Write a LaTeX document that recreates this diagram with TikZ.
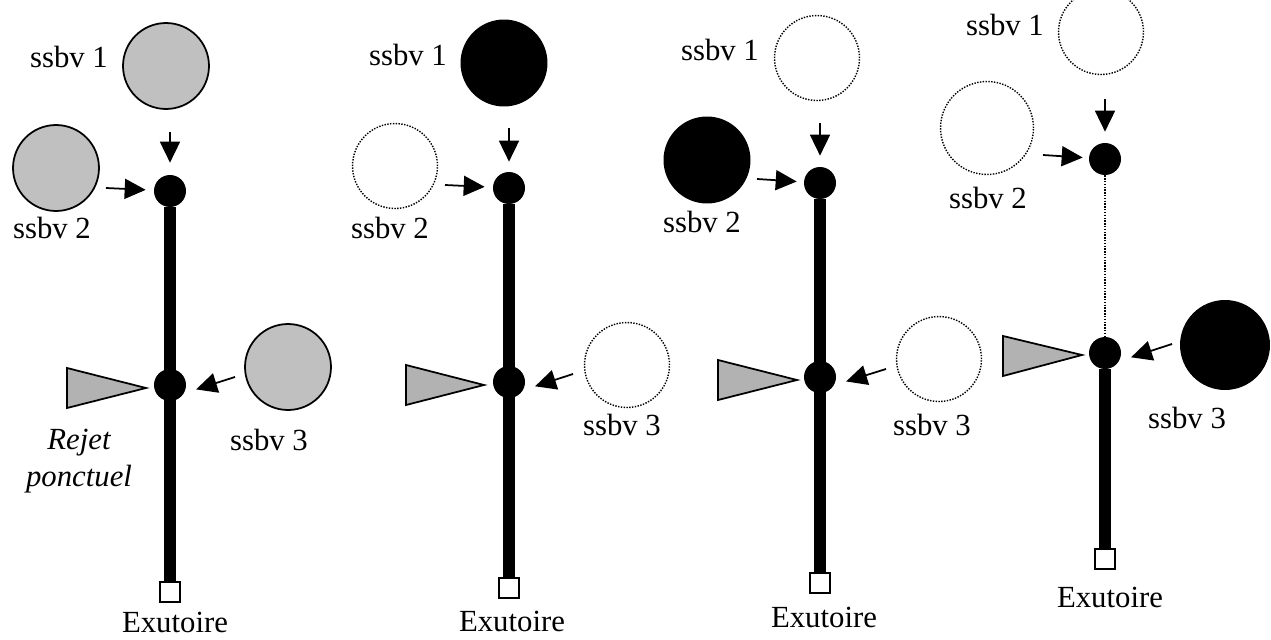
\documentclass[tikz,border=0pt]{standalone}
\usepackage{fontspec}
\setmainfont{Liberation Serif}
\usetikzlibrary{arrows.meta}
\definecolor{gristerre}{HTML}{C0C0C0}
\definecolor{grisrejet}{HTML}{B2B2B2}

\begin{document}
\begin{tikzpicture}[x=0.02cm, y=-0.02cm,
  txt/.style={font=\fontsize{17.5}{21}\selectfont, inner sep=0pt},
  rejtxt/.style={font=\fontsize{17.5}{21}\selectfont\itshape, inner sep=0pt, align=center},
  bvgris/.style={circle, draw, line width=1pt, fill=gristerre, minimum size=1.72cm, inner sep=0pt},
  bvnoir/.style={circle, fill=black, minimum size=1.74cm, inner sep=0pt},
  bvvide/.style={circle, draw, line width=0.8pt, dash pattern=on 0.8pt off 0.8pt, minimum size=1.70cm, inner sep=0pt},
  noeud/.style={circle, fill=black, minimum size=0.64cm, inner sep=0pt},
  exut/.style={draw, fill=white, line width=1pt, minimum size=0.4cm, inner sep=0pt},
  riviere/.style={line width=6.4pt},
  fleche/.style={-{Triangle[length=0.42cm, width=0.4cm]}, line width=1pt},
  rejet/.style={draw, line width=1pt, fill=grisrejet, line join=miter}]
  \useasboundingbox (0,0) rectangle (1271,639);

  % situation 1
  \node[exut] (p1out) at (170,592) {};
  \node[noeud] (p1j1) at (170,191) {};
  \draw[riviere] (p1j1) -- (p1out);
  \node[noeud] (p1j2) at (170,385) {};
  \draw[rejet] (67,368) -- (146,388) -- (67,408) -- cycle;
  \node[bvgris] (p1s1) at (166,66) {};
  \node[bvgris] (p1s2) at (56,168) {};
  \node[bvgris] (p1s3) at (288,367) {};
  \coordinate (p1a1) at (170,132);
  \coordinate (p1a2) at (106,188);
  \coordinate (p1a3) at (235,377);
  \draw[fleche, shorten >=0.24cm] (p1a1) -- (p1j1);
  \draw[fleche, shorten >=0.16cm] (p1a2) -- (p1j1);
  \draw[fleche, shorten >=0.25cm] (p1a3) -- (p1j2.-30);
  \node[txt] (p1l1) at (69,57) {ssbv 1};
  \node[txt] (p1l2) at (52,228) {ssbv 2};
  \node[txt] (p1l3) at (269,440) {ssbv 3};
  \node[rejtxt] (p1r) at (79,461) {Rejet\\ponctuel};
  \node[txt] (p1e) at (175,622) {Exutoire};

  % situation 2
  \node[exut] (p2out) at (509,588) {};
  \node[noeud] (p2j1) at (509,188) {};
  \draw[riviere] (p2j1) -- (p2out);
  \node[noeud] (p2j2) at (509,382) {};
  \draw[rejet] (406,365) -- (484,385) -- (406,405) -- cycle;
  \node[bvnoir] (p2s1) at (504,63) {};
  \node[bvvide] (p2s2) at (395,166) {};
  \node[bvvide] (p2s3) at (627,365) {};
  \coordinate (p2a1) at (509,128);
  \coordinate (p2a2) at (445,185);
  \coordinate (p2a3) at (573,374);
  \draw[fleche, shorten >=0.2cm] (p2a1) -- (p2j1);
  \draw[fleche, shorten >=0.16cm] (p2a2) -- (p2j1);
  \draw[fleche, shorten >=0.25cm] (p2a3) -- (p2j2.-30);
  \node[txt] (p2l1) at (408,55) {ssbv 1};
  \node[txt] (p2l2) at (390,228) {ssbv 2};
  \node[txt] (p2l3) at (622,425) {ssbv 3};
  \node[txt] (p2e) at (512,621) {Exutoire};

  % situation 3
  \node[exut] (p3out) at (820,583) {};
  \node[noeud] (p3j1) at (820,183) {};
  \draw[riviere] (p3j1) -- (p3out);
  \node[noeud] (p3j2) at (820,377) {};
  \draw[rejet] (718,360) -- (797,380) -- (718,400) -- cycle;
  \node[bvvide] (p3s1) at (817,58) {};
  \node[bvnoir] (p3s2) at (707,160) {};
  \node[bvvide] (p3s3) at (939,359) {};
  \coordinate (p3a1) at (820,123);
  \coordinate (p3a2) at (757,179);
  \coordinate (p3a3) at (886,369);
  \draw[fleche, shorten >=0.22cm] (p3a1) -- (p3j1);
  \draw[fleche, shorten >=0.14cm] (p3a2) -- (p3j1);
  \draw[fleche, shorten >=0.25cm] (p3a3) -- (p3j2.-30);
  \node[txt] (p3l1) at (720,50) {ssbv 1};
  \node[txt] (p3l2) at (702,222) {ssbv 2};
  \node[txt] (p3l3) at (932,425) {ssbv 3};
  \node[txt] (p3e) at (824,617) {Exutoire};

  % situation 4
  \node[exut] (p4out) at (1105,559) {};
  \node[noeud] (p4j1) at (1105,159) {};
  \node[noeud] (p4j2) at (1105,353) {};
  \draw[line width=0.8pt, dash pattern=on 0.8pt off 0.8pt] (p4j1) -- (p4j2);
  \draw[riviere] (p4j2) -- (p4out);
  \draw[rejet] (1003,336) -- (1082,355) -- (1003,376) -- cycle;
  \node[bvvide] (p4s1) at (1101,32) {};
  \node[bvvide, minimum size=1.86cm] (p4s2) at (987,128) {};
  \node[bvnoir, minimum size=1.8cm] (p4s3) at (1225,345) {};
  \coordinate (p4a1) at (1105,99);
  \coordinate (p4a2) at (1043,155);
  \coordinate (p4a3) at (1172,344);
  \draw[fleche, shorten >=0.22cm] (p4a1) -- (p4j1);
  \draw[fleche, shorten >=0.12cm] (p4a2) -- (p4j1);
  \draw[fleche, shorten >=0.25cm] (p4a3) -- (p4j2.-30);
  \node[txt] (p4l1) at (1005,25) {ssbv 1};
  \node[txt] (p4l2) at (988,198) {ssbv 2};
  \node[txt] (p4l3) at (1187,418) {ssbv 3};
  \node[txt] (p4e) at (1110,597) {Exutoire};
\end{tikzpicture}
\end{document}
